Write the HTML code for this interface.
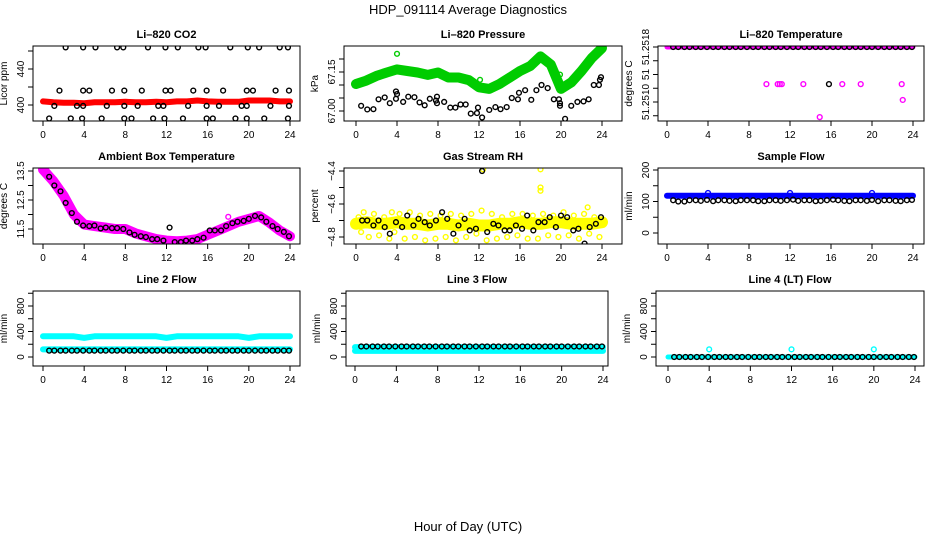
<!DOCTYPE html>
<html><head><meta charset="utf-8"><style>
body{margin:0;background:#fff}
svg{display:block;font-family:"Liberation Sans",sans-serif}
</style></head><body>
<svg id="c" width="936" height="540" viewBox="0 0 936 540" xmlns="http://www.w3.org/2000/svg">
<text x="468" y="14" text-anchor="middle" font-size="13">HDP_091114  Average Diagnostics</text>
<text x="468" y="531" text-anchor="middle" font-size="13">Hour of Day (UTC)</text>
</svg>
<script>
const xTicks=[0,4,8,12,16,20,24];
const sampleHours=[0.6,1.1,1.7,2.2,2.8,3.3,3.9,4.5,5.0,5.6,6.1,6.7,7.2,7.8,8.4,8.9,9.5,10.0,10.6,11.1,11.7,12.3,12.8,13.4,13.9,14.5,15.0,15.6,16.2,16.7,17.3,17.8,18.4,18.9,19.5,20.0,20.6,21.2,21.7,22.3,22.8,23.4,23.9];
const bandHours=[0,1,2,3,4,5,6,7,8,9,10,11,12,13,14,15,16,17,18,19,20,21,22,23,24];

// Li-820 CO2
const co2Band=[404,403,402.5,402.5,402,403,403,403,403.5,403,403,403.5,403,404,404,405,404,403.5,403.5,403.5,405,405,405,404,404];
const co2PtHours=[2.2,3.9,5.1,7.2,7.8,10.2,11.9,13.1,15.1,15.8,18.2,19.9,21.0,23.0,23.8,1.6,3.9,4.5,6.7,7.9,9.6,11.9,12.4,14.6,15.9,17.5,19.8,20.4,22.6,23.9,1.1,3.3,3.9,6.2,7.9,9.2,11.2,11.7,14.1,15.9,17.1,19.3,19.8,22.1,23.9,0.6,2.7,3.8,5.7,7.9,8.6,10.7,11.8,13.6,15.9,16.5,18.7,19.8,21.5,23.8];
const co2PtVals=[464,464,464,464,464,464,464,464,464,464,464,464,464,464,464,416,416,416,416,416,416,416,416,416,416,416,416,416,416,416,399,399,399,399,399,399,399,399,399,399,399,399,399,399,399,385,385,385,385,385,385,385,385,385,385,385,385,385,385,385];

// Li-820 Pressure
const presBand=[67.104,67.117,67.135,67.148,67.16,67.154,67.148,67.139,67.148,67.129,67.129,67.119,67.091,67.085,67.104,67.129,67.154,67.173,67.21,67.179,67.085,67.11,67.154,67.204,67.242];
const presPtHours=[0.5,1.1,1.7,2.2,2.8,3.3,3.9,3.9,4.0,4.6,5.1,5.7,6.2,6.7,7.2,7.8,7.9,7.9,8.6,9.2,9.7,10.2,10.7,11.2,11.8,11.9,12.3,13.0,13.6,14.1,14.7,15.2,15.8,15.9,16.5,17.1,17.6,18.1,18.7,19.3,19.8,19.9,19.9,20.4,21.0,21.6,22.2,22.7,23.2,23.7,23.8,23.9];
const presPtVals=[67.02,67.006,67.007,67.045,67.052,67.03,67.047,67.075,67.065,67.035,67.055,67.053,67.033,67.022,67.047,67.04,67.03,67.055,67.035,67.013,67.013,67.025,67.025,66.99,66.992,67.013,66.975,67.004,67.015,67.007,67.015,67.05,67.045,67.07,67.08,67.043,67.08,67.1,67.088,67.045,67.045,67.02,67.03,66.97,67.02,67.035,67.037,67.045,67.1,67.1,67.12,67.13];
const presOutHours=[4.0,4.8,12.1,19.9];
const presOutVals=[67.22,67.16,67.12,67.14];

// Li-820 Temperature
const tempBand=[51.2518,51.2518,51.2518,51.2518,51.2518,51.2518,51.2518,51.2518,51.2518,51.2518,51.2518,51.2518,51.2518,51.2518,51.2518,51.2518,51.2518,51.2518,51.2518,51.2518,51.2518,51.2518,51.2518,51.2518,51.2518];
const tempOutHours=[9.7,10.8,11.0,11.2,13.3,17.1,18.9,22.9,23.0,14.9];
const tempOutVals=[51.25126,51.25126,51.25126,51.25126,51.25126,51.25126,51.25126,51.25126,51.25103,51.25078];
const tempBlackOutHours=[15.8];
const tempBlackOutVals=[51.25126];

// Ambient box temperature
const ambBand=[13.55,13.15,12.65,12.0,11.65,11.6,11.55,11.5,11.5,11.35,11.25,11.15,11.1,11.08,11.1,11.15,11.3,11.45,11.6,11.75,11.85,11.95,11.72,11.45,11.25];
const ambPts=[13.3,13.0,12.8,12.4,12.05,11.75,11.62,11.6,11.62,11.52,11.55,11.53,11.53,11.5,11.38,11.3,11.25,11.22,11.15,11.15,11.1,11.55,11.05,11.05,11.1,11.1,11.15,11.2,11.45,11.45,11.45,11.6,11.7,11.75,11.78,11.85,11.95,11.9,11.75,11.6,11.5,11.4,11.25];
const ambOutHours=[18.0];
const ambOutVals=[11.92];

// Gas stream RH
const rhBand=[-4.72,-4.71,-4.72,-4.72,-4.71,-4.72,-4.72,-4.73,-4.72,-4.72,-4.73,-4.72,-4.73,-4.73,-4.72,-4.72,-4.71,-4.72,-4.72,-4.71,-4.71,-4.72,-4.72,-4.72,-4.71];
const rhPts=[-4.70,-4.70,-4.73,-4.70,-4.74,-4.78,-4.71,-4.74,-4.67,-4.73,-4.69,-4.71,-4.73,-4.70,-4.65,-4.69,-4.78,-4.73,-4.69,-4.76,-4.75,-4.40,-4.77,-4.72,-4.73,-4.76,-4.76,-4.73,-4.75,-4.67,-4.76,-4.71,-4.71,-4.68,-4.74,-4.67,-4.68,-4.76,-4.75,-4.84,-4.74,-4.72,-4.68];
const rhYelHours=[0.25,0.5,0.75,1.25,1.75,2.25,2.75,3.25,3.5,3.75,4.25,4.75,5.25,5.75,6.25,6.75,7.25,7.75,8.25,8.75,9.25,9.75,10.25,10.75,11.25,11.75,12.25,12.75,13.25,13.75,14.25,14.75,15.25,15.75,16.25,16.75,17.25,17.75,18.25,18.75,19.25,19.75,20.25,20.75,21.25,21.75,22.25,22.75,23.25,23.75,12.4,18.0,18.0,18.0,22.6];
const rhYelVals=[-4.68,-4.77,-4.65,-4.80,-4.66,-4.79,-4.68,-4.81,-4.65,-4.77,-4.66,-4.81,-4.65,-4.80,-4.67,-4.82,-4.66,-4.81,-4.67,-4.80,-4.66,-4.82,-4.67,-4.80,-4.66,-4.78,-4.64,-4.82,-4.66,-4.81,-4.68,-4.80,-4.66,-4.79,-4.66,-4.81,-4.67,-4.81,-4.66,-4.79,-4.67,-4.80,-4.65,-4.79,-4.67,-4.81,-4.66,-4.78,-4.68,-4.80,-4.39,-4.39,-4.50,-4.52,-4.62];

// Sample flow
const sfBand=[118,118,118,118,118,118,118,118,118,118,118,118,118,118,118,118,118,118,118,118,118,118,118,118,118];
const sfPts=[104,100,100,104,104,102,105,101,104,104,102,101,104,104,104,101,101,104,104,102,104,106,102,104,104,101,102,104,106,104,102,101,104,104,102,105,101,104,104,102,101,104,105];
const sfOutHours=[4,12,20];
const sfOutVals=[127,127,127];

// Line 2 flow
const l2Band=[325,325,325,325,300,325,325,325,325,325,325,325,300,325,325,325,325,325,325,325,300,325,325,325,325];
const l2Low=[120,120,120,120,120,120,120,120,120,120,120,120,120,120,120,120,120,120,120,120,120,120,120,120,120];
const l2Pts=[100,100,100,100,100,100,100,100,100,100,100,100,100,100,100,100,100,100,100,100,100,100,100,100,100,100,100,100,100,100,100,100,100,100,100,100,100,100,100,100,100,100,100];

// Line 3 flow
const l3Band=[95,95,95,95,95,95,95,95,95,95,95,95,95,95,95,95,95,95,95,95,95,95,95,95,95];
const l3Up=[155,155,155,155,155,155,155,155,155,155,155,155,155,155,155,155,155,155,155,155,155,155,155,155,155];
const l3Pts=[165,165,165,165,165,165,165,165,165,165,165,165,165,165,165,165,165,165,165,165,165,165,165,165,165,165,165,165,165,165,165,165,165,165,165,165,165,165,165,165,165,165,165];

// Line 4 flow
const l4Band=[0,0,0,0,0,0,0,0,0,0,0,0,0,0,0,0,0,0,0,0,0,0,0,0,0];
const l4Pts=[0,0,0,0,0,0,0,0,0,0,0,0,0,0,0,0,0,0,0,0,0,0,0,0,0,0,0,0,0,0,0,0,0,0,0,0,0,0,0,0,0,0,0];
const l4OutHours=[4,12,20];
const l4OutVals=[120,120,120];

const NS='http://www.w3.org/2000/svg';
const svg=document.getElementById('c');
function mk(tag,attrs,parent){const e=document.createElementNS(NS,tag);for(const k in attrs)e.setAttribute(k,attrs[k]);(parent||svg).appendChild(e);return e;}

function panel(p){
  const g=mk('g',{});
  
  
  const xs=h=>p.x0+h*(p.x24-p.x0)/24;
  const ys=v=>p.pa+(v-p.va)*(p.pb-p.pa)/(p.vb-p.va);
  const clip='clip-'+p.name;
  const cp=mk('clipPath',{id:clip},g);
  mk('rect',{x:p.L,y:p.T,width:p.R-p.L,height:p.B-p.T},cp);
  const t=mk('text',{x:(p.L+p.R)/2,y:p.T-8,'text-anchor':'middle','font-size':11,'font-weight':'bold'},g);
  t.textContent=p.title;
  
  
  const yl=mk('text',{transform:`translate(${p.L-26},${(p.T+p.B)/2}) rotate(-90)`,'text-anchor':'middle','font-size':10},g);
  yl.textContent=p.ylab;
  
  
  const ax=mk('g',{stroke:'#000','stroke-width':1},g);
  
  
  p.yticks.forEach((v,i)=>{
    const y=ys(v);
    mk('line',{x1:p.L-5,x2:p.L,y1:y,y2:y},ax);
    if(p.ylabels[i]!==''){
      const tl=mk('text',{transform:`translate(${p.L-9},${y}) rotate(-90)`,'text-anchor':'middle','font-size':10,stroke:'none'},ax);
      tl.textContent=p.ylabels[i];
      
      
    }
  });
  const xa=mk('g',{stroke:'#000','stroke-width':1},g);
  
  
  xTicks.forEach(h=>{
    const x=xs(h);
    mk('line',{x1:x,x2:x,y1:p.B,y2:p.B+5},xa);
    const tl=mk('text',{x:x,y:p.B+17,'text-anchor':'middle','font-size':10,stroke:'none'},xa);
    tl.textContent=h;
    
    
  });
  const d=mk('g',{'clip-path':`url(#${clip})`},g);
  
  
  p.draw(d,xs,ys);
  const fr=mk('rect',{x:p.L,y:p.T,width:p.R-p.L,height:p.B-p.T,fill:'none',stroke:'#000','stroke-width':1},g);
  
  
}
function band(g,xs,ys,hours,vals,color,w){
  const pts=hours.map((h,i)=>xs(h).toFixed(1)+','+ys(vals[i]).toFixed(1)).join(' ');
  const l=mk('polyline',{points:pts,fill:'none',stroke:color,'stroke-width':w,'stroke-linejoin':'round','stroke-linecap':'round'},g);
  
  
}
function dots(g,xs,ys,hours,vals,color){
  hours.forEach((h,i)=>{
    const c=mk('circle',{cx:xs(h),cy:ys(vals[i]),r:2.4,fill:'none',stroke:color,'stroke-width':1.4},g);
    
    
  });
}

const panels=[
 {name:'co2',title:'Li\u2013820 CO2',ylab:'Licor ppm',L:33,R:300,T:46,B:121,x0:43,x24:290,va:400,pa:105,vb:440,pb:69,
  yticks:[400,420,440,460],ylabels:['400','','440',''],
  draw:(g,xs,ys)=>{band(g,xs,ys,bandHours,co2Band,'#ff0000',6);dots(g,xs,ys,co2PtHours,co2PtVals,'#000');}},
 {name:'pressure',title:'Li\u2013820 Pressure',ylab:'kPa',L:344,R:622,T:46,B:121,x0:356,x24:602,va:67.00,pa:111,vb:67.15,pb:72,
  yticks:[67.00,67.05,67.10,67.15,67.20],ylabels:['67.00','','','67.15',''],
  draw:(g,xs,ys)=>{band(g,xs,ys,bandHours,presBand,'#00cc00',10);dots(g,xs,ys,presOutHours,presOutVals,'#00cc00');dots(g,xs,ys,presPtHours,presPtVals,'#000');}},
 {name:'li820-temperature',title:'Li\u2013820 Temperature',ylab:'degrees C',L:658,R:924,T:46,B:121,x0:667,x24:913,va:51.2510,pa:102,vb:51.2518,pb:47,
  yticks:[51.2508,51.2510,51.2512,51.2514,51.2516,51.2518],ylabels:['','51.2510','','51','','51.2518'],
  draw:(g,xs,ys)=>{band(g,xs,ys,bandHours,tempBand,'#ff00ff',5);dots(g,xs,ys,sampleHours,sampleHours.map(()=>tempBand[0]),'#000');dots(g,xs,ys,tempOutHours,tempOutVals,'#ff00ff');dots(g,xs,ys,tempBlackOutHours,tempBlackOutVals,'#000');}},
 {name:'ambient-temperature',title:'Ambient Box Temperature',ylab:'degrees C',L:33,R:300,T:168,B:244,x0:43,x24:290,va:11.5,pa:229,vb:13.5,pb:171,
  yticks:[11.5,12.0,12.5,13.0,13.5],ylabels:['11.5','','12.5','','13.5'],
  draw:(g,xs,ys)=>{band(g,xs,ys,bandHours,ambBand,'#ff00ff',10);dots(g,xs,ys,ambOutHours,ambOutVals,'#ff00ff');dots(g,xs,ys,sampleHours,ambPts,'#000');}},
 {name:'gas-stream-rh',title:'Gas Stream RH',ylab:'percent',L:344,R:622,T:168,B:244,x0:356,x24:602,va:-4.8,pa:237,vb:-4.4,pb:171,
  yticks:[-4.8,-4.7,-4.6,-4.5,-4.4],ylabels:['\u22124.8','','\u22124.6','','\u22124.4'],
  draw:(g,xs,ys)=>{band(g,xs,ys,bandHours,rhBand,'#ffff00',12);dots(g,xs,ys,rhYelHours,rhYelVals,'#ffff00');dots(g,xs,ys,sampleHours,rhPts,'#000');}},
 {name:'sample-flow',title:'Sample Flow',ylab:'ml/min',L:658,R:924,T:168,B:244,x0:667,x24:913,va:0,pa:233,vb:200,pb:170,
  yticks:[0,50,100,150,200],ylabels:['0','','100','','200'],
  draw:(g,xs,ys)=>{band(g,xs,ys,bandHours,sfBand,'#0000ff',6);dots(g,xs,ys,sfOutHours,sfOutVals,'#0000ff');dots(g,xs,ys,sampleHours,sfPts,'#000');}},
 {name:'line2-flow',title:'Line 2 Flow',ylab:'ml/min',L:33,R:300,T:291,B:366,x0:43,x24:290,va:0,pa:357,vb:800,pb:306,
  yticks:[0,200,400,600,800,1000],ylabels:['0','','400','','800',''],
  draw:(g,xs,ys)=>{band(g,xs,ys,bandHours,l2Band,'#00ffff',6);band(g,xs,ys,bandHours,l2Low,'#00ffff',6);dots(g,xs,ys,sampleHours,l2Pts,'#000');}},
 {name:'line3-flow',title:'Line 3 Flow',ylab:'ml/min',L:346,R:608,T:291,B:366,x0:355,x24:603,va:0,pa:357,vb:800,pb:306,
  yticks:[0,200,400,600,800,1000],ylabels:['0','','400','','800',''],
  draw:(g,xs,ys)=>{band(g,xs,ys,bandHours,l3Band,'#00ffff',6);band(g,xs,ys,bandHours,l3Up,'#00ffff',6);dots(g,xs,ys,sampleHours,l3Pts,'#000');}},
 {name:'line4-flow',title:'Line 4 (LT) Flow',ylab:'ml/min',L:656,R:924,T:291,B:366,x0:668,x24:915,va:0,pa:357,vb:800,pb:306,
  yticks:[0,200,400,600,800,1000],ylabels:['0','','400','','800',''],
  draw:(g,xs,ys)=>{band(g,xs,ys,bandHours,l4Band,'#00ffff',5);dots(g,xs,ys,l4OutHours,l4OutVals,'#00ffff');dots(g,xs,ys,sampleHours,l4Pts,'#000');}}
];
panels.forEach(panel);
</script>
</body></html>
